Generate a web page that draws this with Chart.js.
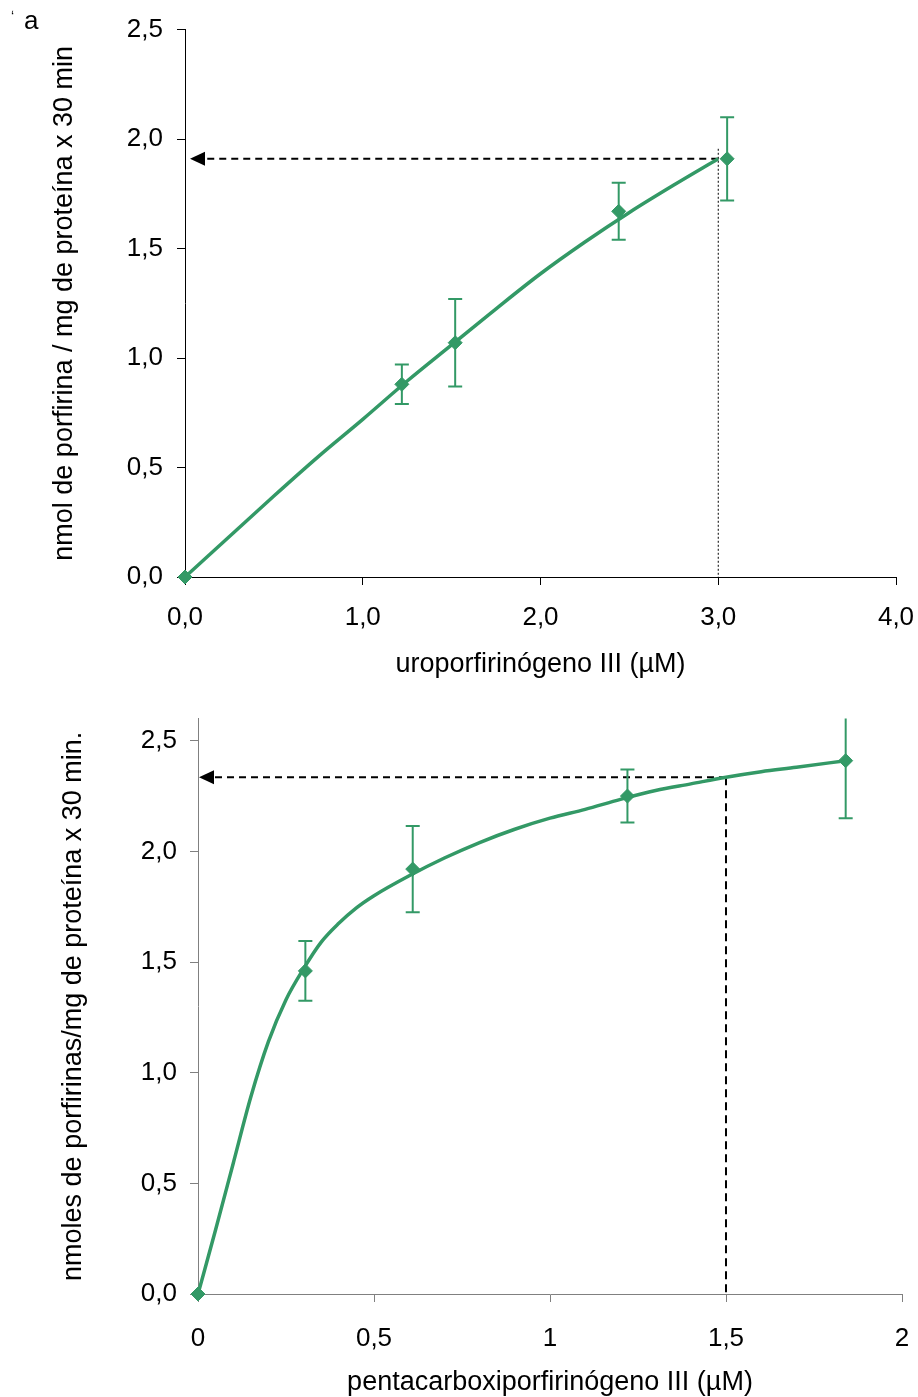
<!DOCTYPE html>
<html lang="es">
<head>
  <meta charset="UTF-8">
  <title>Porfirinas</title>
  <script src="https://cdn.jsdelivr.net/npm/chart.js"></script>
  <style>
    body { margin: 0; background: #fff; }
    .wrap { position: absolute; left: 0; width: 918px; }
    #top { top: 0; height: 690px; }
    #bottom { top: 690px; height: 707px; }
  </style>
</head>
<body>
  <div class="wrap" id="top"><canvas id="uroChart" width="918" height="690"></canvas></div>
  <div class="wrap" id="bottom"><canvas id="pentaChart" width="918" height="707"></canvas></div>

  <script>
    // Panel a: uroporfirinógeno III
    const uroX = [0, 1.22, 1.52, 2.44, 3.05];
    const uroY = [0, 0.88, 1.07, 1.67, 1.91];
    const uroErr = [0, 0.09, 0.20, 0.13, 0.19];
    const uroFitX = [0, 0.25, 0.5, 0.75, 1.0, 1.25, 1.5, 1.75, 2.0, 2.25, 2.5, 2.75, 3.0];
    const uroFitY = [0, 0.185, 0.37, 0.55, 0.72, 0.895, 1.06, 1.225, 1.385, 1.53, 1.665, 1.79, 1.91];
    const uroXTicks = [0, 1, 2, 3, 4];
    const uroYTicks = [0, 0.5, 1, 1.5, 2, 2.5];
    const uroGuide = [3.0, 1.91];

    // Panel b: pentacarboxiporfirinógeno III
    const pentaX = [0, 0.305, 0.61, 1.22, 1.84];
    const pentaY = [0, 1.46, 1.92, 2.25, 2.41];
    const pentaErr = [0, 0.135, 0.195, 0.12, 0.26];
    const pentaFitX = [0, 0.05, 0.1, 0.15, 0.2, 0.25, 0.3, 0.35, 0.4, 0.45, 0.5, 0.6, 0.7, 0.8, 0.9, 1.0, 1.1, 1.2, 1.3, 1.4, 1.5, 1.6, 1.7, 1.84];
    const pentaFitY = [0, 0.29, 0.59, 0.89, 1.14, 1.33, 1.47, 1.59, 1.675, 1.745, 1.80, 1.89, 1.97, 2.04, 2.10, 2.15, 2.19, 2.235, 2.275, 2.305, 2.335, 2.36, 2.38, 2.41];
    const pentaXTicks = [0, 0.5, 1, 1.5, 2];
    const pentaYTicks = [0, 0.5, 1, 1.5, 2, 2.5];
    const pentaGuide = [1.5, 2.335];

    const GREEN = '#339966';
    Chart.defaults.font.family = "'Liberation Sans', Arial, sans-serif";
    Chart.defaults.color = '#000';

    const comma1 = v => v.toFixed(1).replace('.', ',');
    const commaPlain = v => String(v).replace('.', ',');
    const pts = (xs, ys) => xs.map((v, i) => ({ x: v, y: ys[i] }));

    // error bars and the dashed read-off lines, drawn under the series
    const extras = {
      id: 'extras',
      beforeDatasetsDraw(chart, args, o) {
        const { ctx, chartArea: a, scales: { x, y } } = chart;
        ctx.save();
        ctx.beginPath();
        ctx.rect(a.left, a.top, a.width, a.height);
        ctx.clip();

        // guide lines
        const gx = x.getPixelForValue(o.guide[0]);
        const gy = y.getPixelForValue(o.guide[1]);
        ctx.strokeStyle = '#000';
        ctx.fillStyle = '#000';
        ctx.lineWidth = 2;
        ctx.setLineDash([7, 5]);
        ctx.beginPath();
        ctx.moveTo(gx, gy);
        ctx.lineTo(a.left + o.tipGap + 14, gy);
        ctx.stroke();
        ctx.setLineDash([]);
        ctx.beginPath();
        ctx.moveTo(a.left + o.tipGap, gy);
        ctx.lineTo(a.left + o.tipGap + 15, gy - 7);
        ctx.lineTo(a.left + o.tipGap + 15, gy + 7);
        ctx.closePath();
        ctx.fill();

        ctx.lineWidth = o.vWidth;
        ctx.setLineDash(o.vDash);
        ctx.beginPath();
        ctx.moveTo(gx, gy - o.vOver);
        ctx.lineTo(gx, a.bottom);
        ctx.stroke();
        ctx.setLineDash([]);

        // error bars
        ctx.strokeStyle = GREEN;
        ctx.lineWidth = 2;
        o.xs.forEach((v, i) => {
          const e = o.err[i];
          if (!e) return;
          const px = x.getPixelForValue(v);
          const hi = y.getPixelForValue(o.ys[i] + e);
          const lo = y.getPixelForValue(o.ys[i] - e);
          ctx.beginPath();
          ctx.moveTo(px, hi); ctx.lineTo(px, lo);
          ctx.moveTo(px - 7, hi); ctx.lineTo(px + 7, hi);
          ctx.moveTo(px - 7, lo); ctx.lineTo(px + 7, lo);
          ctx.stroke();
        });
        ctx.restore();
      }
    };

    // panel letter
    const panelMark = {
      id: 'panelMark',
      afterDraw(chart, args, o) {
        if (!o.text) return;
        const ctx = chart.ctx;
        ctx.save();
        ctx.fillStyle = '#000';
        ctx.font = "14px 'Liberation Sans', Arial, sans-serif";
        ctx.fillText('ʻ', 11, 22);
        ctx.font = "26px 'Liberation Sans', Arial, sans-serif";
        ctx.fillText(o.text, 24, 29);
        ctx.restore();
      }
    };

    function makeChart(id, d) {
      return new Chart(document.getElementById(id), {
        type: 'line',
        data: {
          datasets: [
            {
              data: pts(d.fitX, d.fitY),
              borderColor: GREEN,
              borderWidth: 3.5,
              pointRadius: 0,
              cubicInterpolationMode: 'monotone',
              order: 2
            },
            {
              data: pts(d.xs, d.ys),
              showLine: false,
              clip: false,
              pointStyle: 'rectRot',
              pointRadius: 7,
              pointBackgroundColor: GREEN,
              pointBorderColor: GREEN,
              pointBorderWidth: 1,
              order: 1
            }
          ]
        },
        options: {
          responsive: false,
          animation: false,
          layout: { padding: d.pad },
          plugins: {
            legend: { display: false },
            tooltip: { enabled: false },
            extras: { xs: d.xs, ys: d.ys, err: d.err, guide: d.guide, tipGap: d.tipGap, vDash: d.vDash, vWidth: d.vWidth, vOver: d.vOver },
            panelMark: { text: d.mark }
          },
          scales: {
            x: {
              type: 'linear',
              min: d.xTicks[0],
              max: d.xTicks[d.xTicks.length - 1],
              afterBuildTicks: s => { s.ticks = d.xTicks.map(v => ({ value: v })); },
              afterFit: s => { s.height = d.xAxisH; s.paddingLeft = 0; s.paddingRight = 0; },
              border: { color: d.axisColor, width: 1 },
              grid: { drawOnChartArea: false, tickLength: 8, color: d.axisColor },
              ticks: { font: { size: 26 }, padding: d.xTickPad, maxRotation: 0, callback: d.xFmt },
              title: { display: true, text: d.xTitle, font: { size: 27 }, padding: { top: 0, bottom: d.xTitlePad } }
            },
            y: {
              min: 0,
              max: d.yMax,
              afterBuildTicks: s => { s.ticks = d.yTicks.map(v => ({ value: v })); },
              afterFit: s => { s.width = d.yAxisW; },
              border: { color: d.axisColor, width: 1 },
              grid: { drawOnChartArea: false, tickLength: 8, color: d.axisColor },
              ticks: { font: { size: 26 }, padding: d.yTickPad, callback: comma1 },
              title: { display: true, text: d.yTitle, font: { size: 27 }, padding: { top: d.yTitlePad, bottom: 0 } }
            }
          }
        },
        plugins: [extras, panelMark]
      });
    }

    makeChart('uroChart', {
      xs: uroX, ys: uroY, err: uroErr, fitX: uroFitX, fitY: uroFitY,
      xTicks: uroXTicks, yTicks: uroYTicks, yMax: 2.5, guide: uroGuide,
      xFmt: comma1, axisColor: '#000',
      pad: { left: 0, top: 27, right: 22, bottom: 0 },
      xAxisH: 113, yAxisW: 185, xTickPad: 17, yTickPad: 14,
      xTitle: 'uroporfirinógeno III (µM)', xTitlePad: 9,
      yTitle: 'nmol de porfirina / mg de proteína x 30 min', yTitlePad: 48,
      tipGap: 5, vDash: [2, 2], vWidth: 1, vOver: 10, mark: 'a'
    });

    makeChart('pentaChart', {
      xs: pentaX, ys: pentaY, err: pentaErr, fitX: pentaFitX, fitY: pentaFitY,
      xTicks: pentaXTicks, yTicks: pentaYTicks, yMax: 2.6, guide: pentaGuide,
      xFmt: commaPlain, axisColor: '#808080',
      pad: { left: 0, top: 26, right: 16, bottom: 0 },
      xAxisH: 103, yAxisW: 198, xTickPad: 21, yTickPad: 13,
      xTitle: 'pentacarboxiporfirinógeno III (µM)', xTitlePad: -2,
      yTitle: 'nmoles de porfirinas/mg de proteína x 30 min.', yTitlePad: 57,
      tipGap: 1, vDash: [8, 5], vWidth: 2, vOver: 0, mark: ''
    });
  </script>
</body>
</html>
